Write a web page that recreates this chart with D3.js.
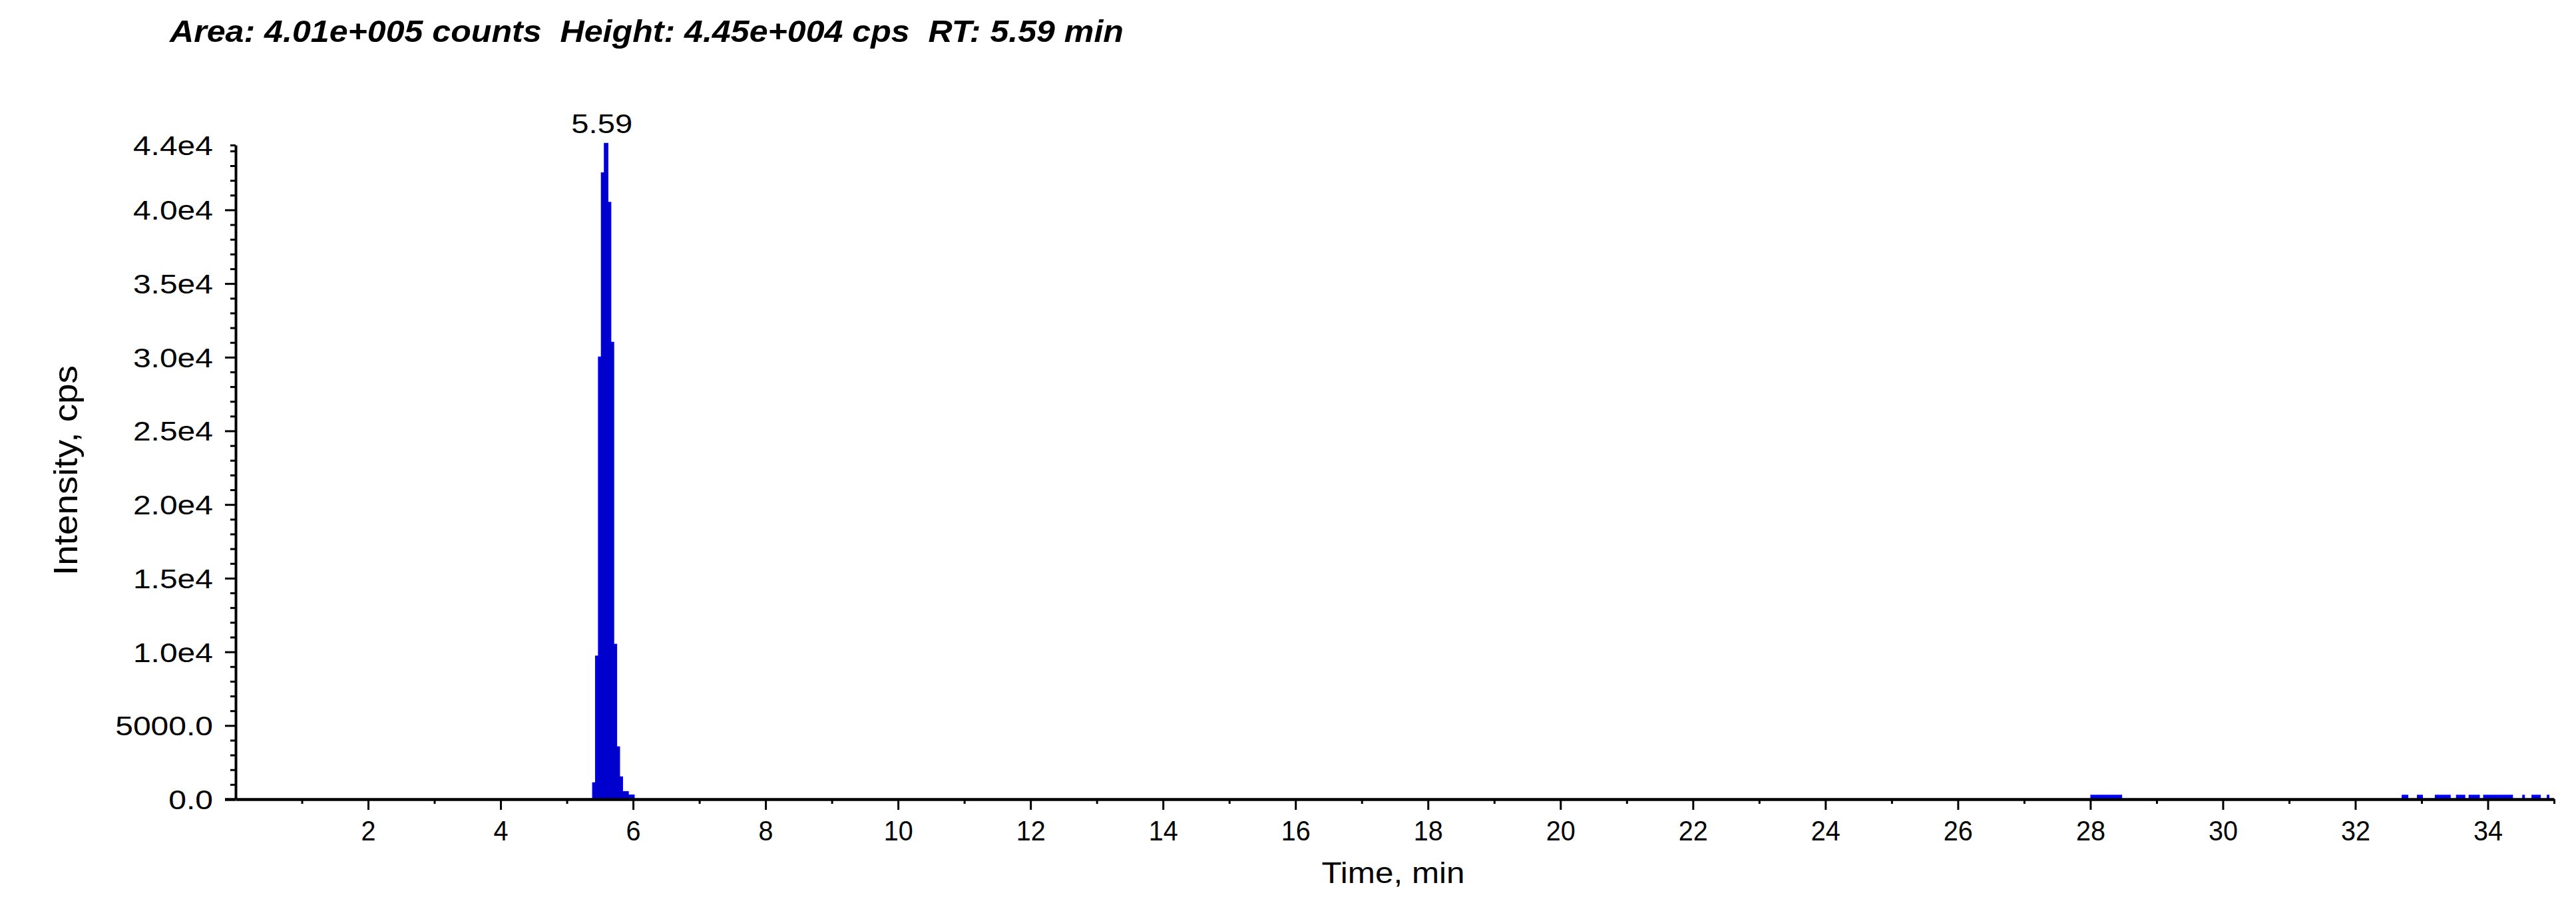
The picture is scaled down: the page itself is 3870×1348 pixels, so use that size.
<!DOCTYPE html>
<html>
<head>
<meta charset="utf-8">
<script src="https://cdn.jsdelivr.net/npm/d3@7"></script>
<style>
  body { margin: 0; background: #fff; }
  text { font-family: "Liberation Sans", Arial, sans-serif; fill: #000; }
</style>
</head>
<body>
<div id="chart"></div>
<script>
// XIC scans around the peak (time in min, intensity in cps)
var peakTimes  = [5.416, 5.460, 5.504, 5.548, 5.593, 5.637, 5.681, 5.725, 5.769, 5.814, 5.858, 5.902, 5.946, 5.990];
var peakValues = [1100, 9700, 30000, 42500, 44500, 40500, 31000, 10500, 3540, 1500, 500, 500, 270, 270];

// small baseline blips late in the run
var noiseStart = [28.00, 32.70, 32.93, 33.20, 33.52, 33.71, 33.93, 34.52, 34.66, 34.89];
var noiseEnd   = [28.48, 32.80, 33.02, 33.44, 33.66, 33.88, 34.38, 34.56, 34.80, 34.93];
var noiseValue = [300, 300, 300, 300, 300, 300, 300, 300, 300, 300];

var xMajorTicks = [2, 4, 6, 8, 10, 12, 14, 16, 18, 20, 22, 24, 26, 28, 30, 32, 34];
var yTicks      = [0, 5000, 10000, 15000, 20000, 25000, 30000, 35000, 40000, 44400];
var yTickLabels = ["0.0", "5000.0", "1.0e4", "1.5e4", "2.0e4", "2.5e4", "3.0e4", "3.5e4", "4.0e4", "4.4e4"];

var titleText = "Area: 4.01e+005 counts  Height: 4.45e+004 cps  RT: 5.59 min";
var peakRT = 5.59;
var peakLabel = "5.59";
var dwell = 0.0442;   // min per scan

let w = 3870, h = 1348;

var x = d3.scaleLinear().domain([0, 35]).range([354, 3837]);
var y = d3.scaleLinear().domain([0, 44400]).range([1201, 218]);

var svg = d3.select("#chart")
    .append("svg")
    .attr("width", w)
    .attr("height", h)
    .style("display", "block");

svg.append("rect").attr("width", w).attr("height", h).attr("fill", "#fff");

// stretch text to the measured width ratio (source uses scaled bitmap fonts)
function stretch(sel, k) {
    sel.each(function() {
        let len = this.getComputedTextLength();
        d3.select(this).attr("textLength", len * k).attr("lengthAdjust", "spacingAndGlyphs");
    });
}

// peak: light edge pass, then dark body
svg.selectAll("peakedge")
    .data(peakTimes)
    .enter()
    .append("rect")
    .attr("x", function(d) { return x(d - dwell / 2) - 1.2; })
    .attr("width", function(d) { return x(d + dwell / 2) - x(d - dwell / 2) + 2.4; })
    .attr("y", function(d, i) { return y(peakValues[i]) - 1; })
    .attr("height", function(d, i) { return y(0) - y(peakValues[i]) + 1; })
    .attr("fill", "#0000ff");

svg.selectAll("peakbody")
    .data(peakTimes)
    .enter()
    .append("rect")
    .attr("x", function(d) { return x(d - dwell / 2); })
    .attr("width", function(d) { return x(d + dwell / 2) - x(d - dwell / 2); })
    .attr("y", function(d, i) { return y(peakValues[i]); })
    .attr("height", function(d, i) { return y(0) - y(peakValues[i]); })
    .attr("fill", "#0000cc");

svg.selectAll("noise")
    .data(noiseStart)
    .enter()
    .append("rect")
    .attr("x", function(d) { return x(d); })
    .attr("width", function(d, i) { return x(noiseEnd[i]) - x(d); })
    .attr("y", function(d, i) { return y(noiseValue[i]); })
    .attr("height", function(d, i) { return y(0) - y(noiseValue[i]); })
    .attr("fill", "#0000ff");

// x axis
var xMinor = d3.range(1, 36).filter(function(d) { return d % 2 == 1; });

var gxMinor = svg.append("g")
    .attr("transform", "translate(0," + y(0) + ")")
    .call(d3.axisBottom(x).tickValues(xMinor).tickSize(7).tickSizeOuter(0).tickFormat(""));
gxMinor.select(".domain").remove();

var gx = svg.append("g")
    .attr("transform", "translate(0," + y(0) + ")")
    .call(d3.axisBottom(x).tickValues(xMajorTicks).tickSize(16).tickSizeOuter(0).tickFormat(d3.format("d")));

svg.selectAll("g.tick line").attr("stroke", "#000").attr("stroke-width", 3);
gx.select(".domain").attr("stroke", "#000").attr("stroke-width", 4.5);

gx.selectAll("text")
    .attr("y", 62)
    .attr("dy", null)
    .style("font-size", "43px")
    .call(stretch, 0.92);

// y axis
var yMinor = d3.range(1000, 44001, 1000).filter(function(d) { return d % 5000 != 0; });

var gyMinor = svg.append("g")
    .attr("transform", "translate(" + x(0) + ",0)")
    .call(d3.axisLeft(y).tickValues(yMinor).tickSize(8).tickSizeOuter(0).tickFormat(""));
gyMinor.select(".domain").remove();

var gy = svg.append("g")
    .attr("transform", "translate(" + x(0) + ",0)")
    .call(d3.axisLeft(y).tickValues(yTicks).tickSize(16).tickSizeOuter(0)
        .tickFormat(function(d, i) { return yTickLabels[i]; }));

gyMinor.selectAll(".tick line").attr("stroke", "#000").attr("stroke-width", 3);
gy.selectAll(".tick line")
    .attr("stroke", "#000")
    .attr("stroke-width", function(d) { return d == 0 ? 4.5 : 3; })
    .attr("x2", function(d) { return d == 44400 ? -8 : -16; });
gy.select(".domain").attr("stroke", "#000").attr("stroke-width", 4);

gy.selectAll("text")
    .attr("x", -34)
    .attr("dy", "0.36em")
    .style("font-size", "40px")
    .call(stretch, 1.2);

// peak apex label
svg.append("text")
    .attr("x", x(peakRT) - 6)
    .attr("y", 200)
    .style("text-anchor", "middle")
    .style("font-size", "40px")
    .text(peakLabel)
    .call(stretch, 1.18);

// titles
svg.append("text")
    .attr("x", 255)
    .attr("y", 63)
    .style("font-size", "46px")
    .style("font-weight", "bold")
    .style("font-style", "italic")
    .style("white-space", "pre")
    .attr("textLength", 1433)
    .attr("lengthAdjust", "spacingAndGlyphs")
    .text(titleText);

svg.append("text")
    .attr("transform", "translate(116,707) rotate(-90)")
    .style("text-anchor", "middle")
    .style("font-size", "50px")
    .attr("textLength", 316)
    .attr("lengthAdjust", "spacingAndGlyphs")
    .text("Intensity, cps");

svg.append("text")
    .attr("x", 2093)
    .attr("y", 1327)
    .style("text-anchor", "middle")
    .style("font-size", "45px")
    .attr("textLength", 215)
    .attr("lengthAdjust", "spacingAndGlyphs")
    .text("Time, min");
</script>
</body>
</html>
